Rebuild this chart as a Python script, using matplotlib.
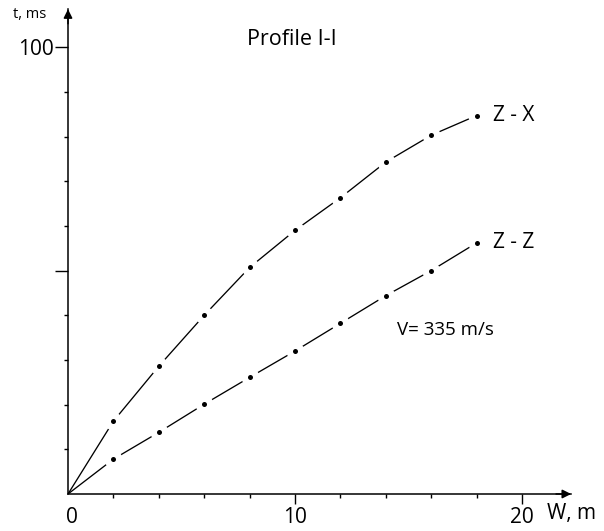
import matplotlib.pyplot as plt
import matplotlib.transforms as mtransforms
import numpy as np

plt.rcParams["font.family"] = ["Open Sans", "DejaVu Sans"]

# distance W (m) and travel time t (ms), origin included
W = [0, 2, 4, 6, 8, 10, 12, 14, 16, 18]
t_zx = [0, 16.3, 28.6, 40.0, 50.7, 59.0, 66.3, 74.3, 80.3, 84.7]
t_zz = [0, 7.8, 13.8, 20.1, 26.1, 32.0, 38.2, 44.4, 50.0, 56.2]

curve_labels = ["Z - X", "Z - Z"]
x_ticks = [0, 10, 20]
x_tick_labels = ["0", "10", "20"]
y_ticks = [50, 100]
y_tick_labels = ["", "100"]


fig = plt.figure(figsize=(6.04, 5.31), dpi=100)
ax = fig.add_axes([0.1126, 0.0697, 0.833, 0.913])
ax.set_xlim(0, 22.16)
ax.set_ylim(0, 108.5)

for t, lab in zip([t_zx, t_zz], curve_labels):
    ax.plot(W, t, color="black", lw=0.95, zorder=2)
    # white halo breaks the line around each measured point
    ax.plot(W[1:], t[1:], ls="none", marker="o", ms=13, mfc="white",
            mec="none", zorder=3)
    ax.plot(W[1:], t[1:], ls="none", marker="o", ms=3.6, mfc="black",
            mec="none", zorder=4)
    ax.text(W[-1] + 0.7, t[-1], lab, fontsize=15, va="center", ha="left")

ax.text(14.5, 36.7, "V= 335 m/s", fontsize=13.5, va="center", ha="left")
ax.text(9.87, 101.8, "Profile I-I", fontsize=15.5, ha="center", va="center")

for s in ["top", "right"]:
    ax.spines[s].set_visible(False)
for s in ["left", "bottom"]:
    ax.spines[s].set_linewidth(1.1)

ax.set_xticks(x_ticks)
ax.set_xticklabels(x_tick_labels, fontsize=15)
ax.set_xticks(np.arange(2, 20, 2), minor=True)
ax.set_yticks(y_ticks)
ax.set_yticklabels(y_tick_labels, fontsize=15)
ax.set_yticks(np.arange(10, 101, 10), minor=True)
ax.tick_params(axis="x", which="major", length=7.5, width=1.0, pad=2)
ax.tick_params(axis="y", which="major", length=9.5, width=1.0, pad=0.7)
ax.tick_params(axis="both", which="minor", length=2.8, width=1.0)

# no tick mark at the origin, and its label sits slightly right
ax.xaxis.get_major_ticks()[0].tick1line.set_visible(False)
lbl0 = ax.get_xticklabels()[0]
lbl0.set_transform(lbl0.get_transform() +
                   mtransforms.ScaledTranslation(4 / 100, 0, fig.dpi_scale_trans))

# arrow heads
arrow = dict(arrowstyle="-|>", color="black", lw=1.1, mutation_scale=13,
             shrinkA=0, shrinkB=0)
ax.annotate("", xy=(1, 0), xytext=(0.97, 0), xycoords="axes fraction",
            arrowprops=arrow, annotation_clip=False)
ax.annotate("", xy=(0, 1), xytext=(0, 0.97), xycoords="axes fraction",
            arrowprops=arrow, annotation_clip=False)

fig.text(547 / 604, 1 - 513 / 531, "W, m", fontsize=15, ha="left", va="center")
fig.text(13 / 604, 1 - 15 / 531, "t, ms", fontsize=10.5, ha="left", va="center")

fig.savefig("out.png", dpi=100)
